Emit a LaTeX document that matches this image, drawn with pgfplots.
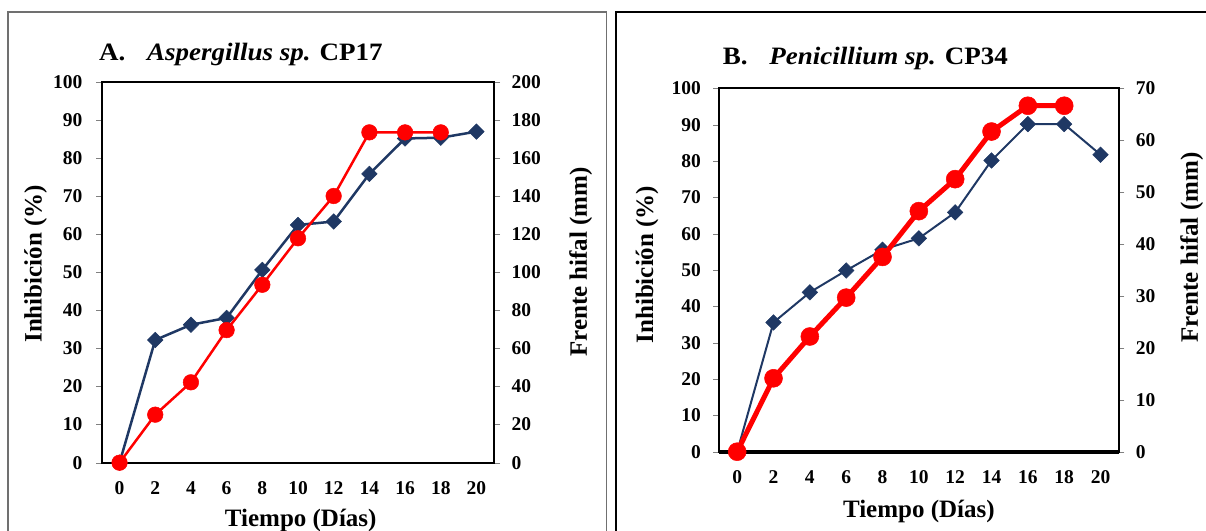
\documentclass[border=0pt]{standalone}
\usepackage{pgfplots}
\pgfplotsset{compat=1.18}
\usepackage{fontspec}
\setmainfont{Liberation Serif}
\usepackage{graphicx}
\definecolor{navy}{HTML}{1F3864}
\definecolor{myred}{HTML}{FF0000}
\definecolor{framegray}{HTML}{707070}

\newcommand{\tickfont}{\fontsize{19.5bp}{22bp}\selectfont\bfseries}
\newcommand{\labfont}{\fontsize{25bp}{30bp}\selectfont\bfseries}

\pgfplotsset{
  panel/.style={
    scale only axis, anchor=south west,
    xmin=-1, xmax=21, clip=false,
    /pgf/number format/assume math mode=true,
    tick align=outside, major tick length=5.7bp,
    every tick label/.append style={font=\tickfont},
  },
  blueline/.style={color=navy, line width=2.5bp, mark=square*, mark size=5.5bp,
    mark options={rotate=45, solid, line width=0.5bp, fill=navy}},
  redline/.style={color=myred, line width=2.5bp, mark=*, mark size=7.8bp,
    mark options={solid, line width=0.5bp, fill=myred}},
}

\begin{document}
\begin{tikzpicture}
\useasboundingbox (0,0) rectangle (1206bp,531bp);
% panel frames
\draw[line width=1.5bp, framegray] (8bp,519bp) rectangle (606.5bp,-30bp);
\draw[line width=2bp, black] (616bp,519bp) rectangle (1240bp,-30bp);

% ---------------- Panel A ----------------
\begin{axis}[panel,
  at={(101.7bp,68.3bp)}, width=392.6bp, height=381bp,
  ymin=0, ymax=200, ytick={0,20,...,200},
  axis y line*=right, axis x line=none,
  axis line style={line width=2bp},
  yticklabel style={anchor=west, xshift=8bp},
  every axis y label/.style={at={(axis description cs:1.236,0.527)}, rotate=90, anchor=base, font=\labfont},
  ylabel={Frente hifal (mm)},
]
\addplot[blueline] coordinates {(0,0) (2,64.4) (4,72.4) (6,76.0) (8,101.2) (10,124.8) (12,126.6) (14,151.6) (16,170.2) (18,170.6) (20,173.8)};
\end{axis}
\begin{axis}[panel,
  at={(101.7bp,68.3bp)}, width=392.6bp, height=381bp,
  ymin=0, ymax=100, ytick={0,10,...,100},
  xtick={0,2,...,20}, ytick pos=left, xtick pos=bottom,
  xtick style={draw=none},
  axis line style={line width=2bp},
  xticklabel style={yshift=-10bp},
  yticklabel style={xshift=-10bp},
  every axis y label/.style={at={(axis description cs:-0.1528,0.522)}, rotate=90, anchor=base, font=\labfont},
  every axis x label/.style={at={(axis description cs:0.507,-0.168)}, anchor=base, font=\labfont},
  ylabel={Inhibición (\%)}, xlabel={Tiempo (Días)},
]
\addplot[redline] coordinates {(0,0) (2,12.6) (4,21.1) (6,34.8) (8,46.7) (10,58.9) (12,70.0) (14,86.7) (16,86.7) (18,86.7)};
\end{axis}
\node[anchor=base west, inner sep=0pt] at (99bp,470.3bp)
  {\scalebox{1.08}[1]{\labfont A.\hspace{20bp}\textit{Aspergillus sp.} CP17}};

% ---------------- Panel B ----------------
\begin{axis}[panel,
  at={(719bp,79.3bp)}, width=399.7bp, height=363.4bp,
  ymin=0, ymax=70, ytick={0,10,...,70},
  axis y line*=right, axis x line=none,
  axis line style={line width=2.2bp},
  yticklabel style={anchor=west, xshift=8bp},
  every axis y label/.style={at={(axis description cs:1.198,0.562)}, rotate=90, anchor=base, font=\labfont},
  ylabel={Frente hifal (mm)},
]
\addplot[blueline, line width=2bp] coordinates {(0,0) (2,24.9) (4,30.7) (6,34.9) (8,38.9) (10,41.1) (12,46.1) (14,56.1) (16,63.1) (18,63.1) (20,57.2)};
\end{axis}
\begin{axis}[panel,
  at={(719bp,79.3bp)}, width=399.7bp, height=363.4bp,
  ymin=0, ymax=100, ytick={0,10,...,100},
  xtick={0,2,...,20}, ytick pos=left, xtick pos=bottom,
  xtick style={draw=none},
  axis line style={line width=2.2bp},
  xticklabel style={yshift=-10bp},
  yticklabel style={xshift=-9bp},
  every axis y label/.style={at={(axis description cs:-0.165,0.515)}, rotate=90, anchor=base, font=\labfont},
  every axis x label/.style={at={(axis description cs:0.5,-0.182)}, anchor=base, font=\labfont},
  ylabel={Inhibición (\%)}, xlabel={Tiempo (Días)},
]
\draw[line width=4bp, black] (rel axis cs:0,0) -- (rel axis cs:1,0);
\addplot[redline, line width=5bp, mark size=9bp] coordinates {(0,0) (2,20.2) (4,31.7) (6,42.4) (8,53.6) (10,66.2) (12,75.0) (14,88.1) (16,95.2) (18,95.2)};
\end{axis}
\node[anchor=base west, inner sep=0pt] at (722.7bp,466bp)
  {\scalebox{1.08}[1]{\labfont B.\hspace{20bp}\textit{Penicillium sp.} CP34}};
\end{tikzpicture}
\end{document}
